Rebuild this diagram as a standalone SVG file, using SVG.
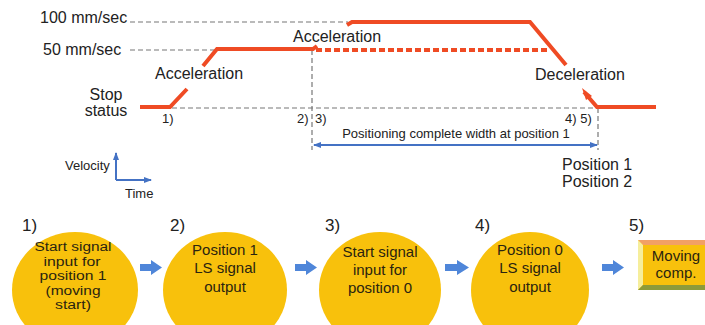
<svg xmlns="http://www.w3.org/2000/svg" width="705" height="325" viewBox="0 0 705 325">
<style>
text{font-family:"Liberation Sans",Arial,sans-serif;fill:#222}
.lbl{font-size:16px}
.sm{font-size:13px}
.nt{font-size:15px;text-anchor:middle;fill:#2a2410}
.nt1{font-size:12.5px;text-anchor:middle;fill:#2a2410}
.num{font-size:17px}
.gd{stroke:#777;stroke-width:1.2;stroke-dasharray:5,3;fill:none}
.red{stroke:#ef4b24;stroke-width:4;fill:none}
.ell{fill:#f8c10c}
.blk{fill:#4f86d9}
</style>
<defs>
<marker id="ah" markerWidth="8" markerHeight="6" refX="7" refY="3" orient="auto-start-reverse" markerUnits="userSpaceOnUse">
<path d="M0,0 L8,3 L0,6 Z" fill="#4472c4"/>
</marker>
</defs>
<rect width="705" height="325" fill="#fff"/>

<g id="chart">
<text class="lbl" x="40" y="23">100 mm/sec</text>
<text class="lbl" x="43" y="55">50 mm/sec</text>
<text class="lbl" x="106" y="100" text-anchor="middle">Stop</text>
<text class="lbl" x="106" y="116" text-anchor="middle">status</text>
<text class="lbl" x="155" y="79">Acceleration</text>
<text class="lbl" x="293" y="42">Acceleration</text>
<text class="lbl" x="535" y="80">Deceleration</text>

<path class="gd" d="M130,22 H348 M130,50 H215 M172,108 H598 M312,50 V150 M598,108 V150"/>

<path class="red" d="M140,107 H170 L187,89"/>
<path class="red" d="M203,66 L217,49 H313 L317,46"/>
<path class="red" d="M316,50 H548" stroke-dasharray="6,3"/>
<path class="red" d="M347,25 L352,22 H530 L566,65"/>
<path class="red" d="M584,92 L597,107 H656"/>
<path d="M582,88 L592,96 L586,100 Z" fill="#ef4b24"/>

<text class="sm" x="162" y="123">1)</text>
<text class="sm" x="297" y="123">2)</text>
<text class="sm" x="315" y="123">3)</text>
<text class="sm" x="565" y="123">4) 5)</text>

<text class="sm" x="456" y="138" text-anchor="middle">Positioning complete width at position 1</text>
<line x1="314" y1="145" x2="597" y2="145" stroke="#4472c4" stroke-width="2" marker-start="url(#ah)" marker-end="url(#ah)"/>

<text class="lbl" x="562" y="170">Position 1</text>
<text class="lbl" x="562" y="187">Position 2</text>

<text class="sm" x="65" y="170">Velocity</text>
<text class="sm" x="125" y="198">Time</text>
<path d="M116,180 H151" stroke="#4472c4" stroke-width="2" fill="none" marker-end="url(#ah)"/>
<path d="M116,180 V153" stroke="#4472c4" stroke-width="2" fill="none" marker-end="url(#ah)"/>
</g>

<g id="connectors">
<path class="blk" d="M140,264 H151 V260 L162,267.5 L151,275 V271 H140 Z"/>
<path class="blk" d="M295,264 H306 V260 L317,267.5 L306,275 V271 H295 Z"/>
<path class="blk" d="M445,264 H457 V260 L469,267.5 L457,275 V271 H445 Z"/>
<path class="blk" d="M602,264 H613 V260 L624,267.5 L613,275 V271 H602 Z"/>
</g>

<g id="node1">
<ellipse class="ell" cx="75" cy="290" rx="63" ry="58"/>
<text class="num" x="22" y="231">1)</text>
<text class="nt1" x="73" y="251" textLength="77" lengthAdjust="spacingAndGlyphs">Start signal</text>
<text class="nt1" x="72" y="265.5" textLength="57" lengthAdjust="spacingAndGlyphs">input for</text>
<text class="nt1" x="73" y="280" textLength="67" lengthAdjust="spacingAndGlyphs">position 1</text>
<text class="nt1" x="73" y="294.5" textLength="55" lengthAdjust="spacingAndGlyphs">(moving</text>
<text class="nt1" x="73" y="309" textLength="36" lengthAdjust="spacingAndGlyphs">start)</text>
</g>

<g id="node2">
<ellipse class="ell" cx="225" cy="290" rx="62" ry="58"/>
<text class="num" x="170" y="231">2)</text>
<text class="nt" x="225" y="255">Position 1</text>
<text class="nt" x="225" y="273">LS signal</text>
<text class="nt" x="225" y="292">output</text>
</g>

<g id="node3">
<ellipse class="ell" cx="380" cy="290" rx="61" ry="58"/>
<text class="num" x="325" y="231">3)</text>
<text class="nt" x="380" y="257">Start signal</text>
<text class="nt" x="380" y="275">input for</text>
<text class="nt" x="380" y="293">position 0</text>
</g>

<g id="node4">
<ellipse class="ell" cx="530" cy="290" rx="59" ry="58"/>
<text class="num" x="475" y="231">4)</text>
<text class="nt" x="530" y="255">Position 0</text>
<text class="nt" x="530" y="273">LS signal</text>
<text class="nt" x="530" y="292">output</text>
</g>

<g id="node5">
<text class="num" x="629" y="231">5)</text>
<rect x="638" y="240" width="72" height="50" fill="#f8c10c"/>
<path d="M638,240 H710 V245 H643 Z" fill="#f2a065"/>
<path d="M638,240 L643,245 V285 L638,290 Z" fill="#f6ee9c"/>
<path d="M638,290 L643,285 H710 V290 Z" fill="#8d9b3a"/>
<text class="nt" x="676" y="261">Moving</text>
<text class="nt" x="676" y="278">comp.</text>
</g>
</svg>
